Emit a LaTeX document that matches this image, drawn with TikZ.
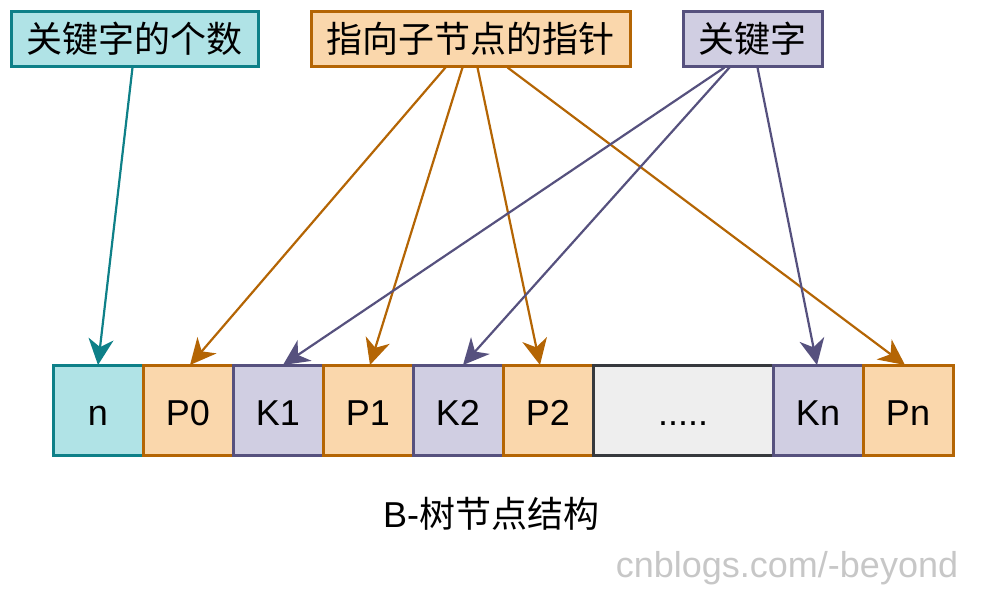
\documentclass[tikz,border=0pt]{standalone}
\usepackage{fontspec}
\setmainfont{Liberation Sans}
\newfontfamily\cjk{Noto Sans CJK SC}
\usepackage{xcolor}
\usepackage{tikz}
\usetikzlibrary{positioning, arrows.meta}

\definecolor{tealfill}{HTML}{B0E3E6}
\definecolor{tealline}{HTML}{0E8088}
\definecolor{orgfill}{HTML}{FAD7AC}
\definecolor{orgline}{HTML}{B46504}
\definecolor{purfill}{HTML}{D0CEE2}
\definecolor{purline}{HTML}{56517E}
\definecolor{dotfill}{HTML}{EEEEEE}
\definecolor{dotline}{HTML}{36393D}

\begin{document}
\begin{tikzpicture}[x=1pt, y=-1pt, >={Stealth[length=26pt, width=25pt, inset=8pt]},
    every node/.style={font=\fontsize{36}{40}\selectfont},
    label/.style={draw, line width=3pt, minimum height=55pt, inner sep=0pt},
    cell/.style={draw, line width=3pt, minimum width=90pt, minimum height=90pt, inner sep=0pt, outer sep=0pt,
                 text height=32pt, text depth=2pt},
    cntbox/.style={tealline, fill=tealfill},
    ptrbox/.style={orgline, fill=orgfill},
    keybox/.style={purline, fill=purfill},
    cntline/.style={->, line width=2.2pt, tealline},
    ptrline/.style={->, line width=2.2pt, orgline},
    keyline/.style={->, line width=2.2pt, purline}]
    \useasboundingbox (0,0) rectangle (989,605);

    % labels on top
    \node[label, cntbox, minimum width=247pt, text=black] (cnt) at (134.5,38.5) {\cjk 关键字的个数};
    \node[label, ptrbox, minimum width=319pt, text=black] (ptr) at (470.5,38.5) {\cjk 指向子节点的指针};
    \node[label, keybox, minimum width=139pt, text=black] (key) at (752.5,38.5) {\cjk 关键字};

    % the node cells
    \node[cell, cntbox, text=black] (n)  at (98,410)   {n};
    \node[cell, ptrbox, text=black] (p0) [right=0pt of n]  {P0};
    \node[cell, keybox, text=black] (k1) [right=0pt of p0] {K1};
    \node[cell, ptrbox, text=black] (p1) [right=0pt of k1] {P1};
    \node[cell, keybox, text=black] (k2) [right=0pt of p1] {K2};
    \node[cell, ptrbox, text=black] (p2) [right=0pt of k2] {P2};
    \node[cell, dotline, fill=dotfill, minimum width=180pt, text=black] (dots) [right=0pt of p2] {.....};
    \node[cell, keybox, text=black] (kn) [right=0pt of dots] {Kn};
    \node[cell, ptrbox, text=black] (pn) [right=0pt of kn] {Pn};

    \path ([xshift=-2pt]cnt.south)  edge[cntline] (n.north)
          ([xshift=-25pt]ptr.south) edge[ptrline] ([xshift=2pt]p0.north)
          ([xshift=-8pt]ptr.south)  edge[ptrline] ([xshift=2pt]p1.north)
          ([xshift=7pt]ptr.south)   edge[ptrline] ([xshift=-8pt]p2.north)
          ([xshift=37pt]ptr.south)  edge[ptrline] ([xshift=-3pt]pn.north)
          ([xshift=-28pt]key.south) edge[keyline] ([xshift=5pt]k1.north)
          ([xshift=-23pt]key.south) edge[keyline] ([xshift=5pt]k2.north)
          ([xshift=5pt]key.south)   edge[keyline] ([xshift=-1pt]kn.north);

    \node (title) at (491,514) {B-{\cjk 树节点结构}};
    \node[text=black!22] (mark) at (787,568) {cnblogs.com/-beyond};
\end{tikzpicture}
\end{document}
